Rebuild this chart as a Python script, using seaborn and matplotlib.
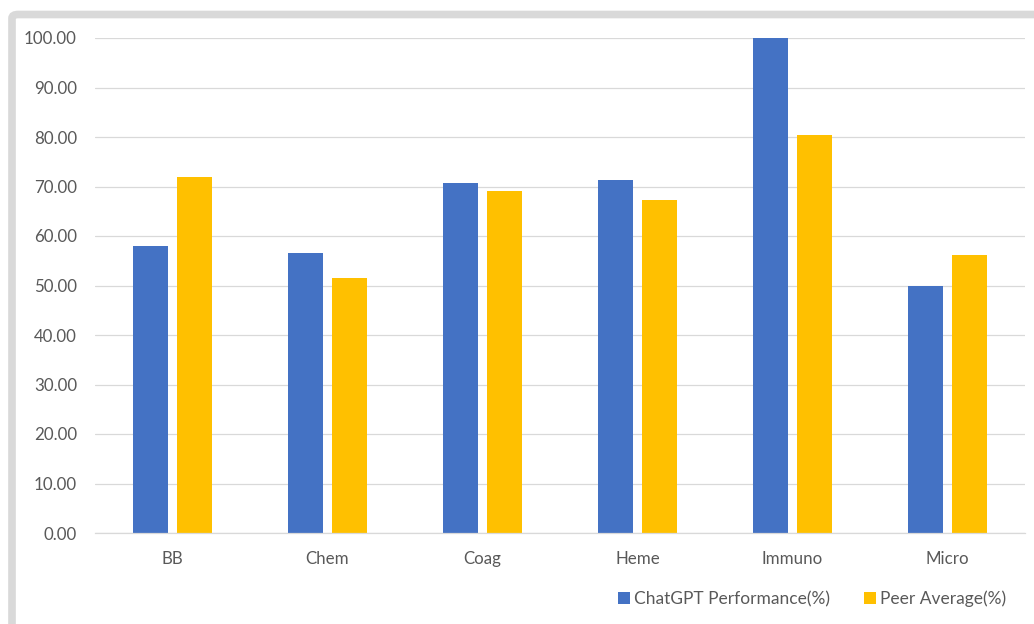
import matplotlib
matplotlib.use("Agg")
import matplotlib.pyplot as plt
import seaborn as sns
import pandas as pd
from matplotlib.patches import FancyBboxPatch, Patch

categories = ["BB", "Chem", "Coag", "Heme", "Immuno", "Micro"]
chatgpt = [57.9, 56.5, 70.8, 71.4, 100.0, 50.0]
peer = [71.9, 51.6, 69.0, 67.2, 80.4, 56.2]
series_names = ["ChatGPT Performance(%)", "Peer Average(%)"]
colors = ["#4472C4", "#FFC000"]

df = pd.DataFrame({
    "cat": categories * 2,
    "val": chatgpt + peer,
    "series": [series_names[0]] * len(categories) + [series_names[1]] * len(categories),
})

sns.set_theme(style="white")
plt.rcParams["font.family"] = ["Lato", "DejaVu Sans"]

fig = plt.figure(figsize=(10.34, 6.24), dpi=100)
ax = fig.add_axes([95 / 1034, 1 - 533 / 624, (1025 - 95) / 1034, (533 - 38) / 624])

sns.barplot(data=df, x="cat", y="val", hue="series", palette=colors,
            width=0.568, gap=0.204, ax=ax, legend=False, saturation=1,
            edgecolor="none")

ax.set_ylim(0, 100)
ax.set_xlim(-0.5, len(categories) - 0.5)
ax.set_yticks(range(0, 101, 10))
ax.set_yticklabels([f"{v:.2f}" for v in range(0, 101, 10)])
ax.yaxis.grid(True, color="#d9d9d9", linewidth=0.9)
ax.set_axisbelow(True)
for s in ["top", "right", "left"]:
    ax.spines[s].set_visible(False)
ax.spines["bottom"].set_color("#d9d9d9")
ax.spines["bottom"].set_linewidth(0.9)
ax.set_xlabel("")
ax.set_ylabel("")
ax.tick_params(axis="both", length=0, labelsize=12.2, colors="#595959")
ax.tick_params(axis="y", pad=13)
ax.tick_params(axis="x", pad=13)

handles = [Patch(facecolor=c, edgecolor="none") for c in colors]
fig.legend(handles, series_names, loc="center", bbox_to_anchor=(812 / 1034, 1 - 599 / 624),
           ncol=2, frameon=False, fontsize=12.5, handlelength=0.7, handleheight=0.7,
           handletextpad=0.2, columnspacing=2.0, labelcolor="#595959")

frame = FancyBboxPatch((12 / 1034, -0.2), 1.2, 1.2 - 14.5 / 624 + 0.0,
                       boxstyle="round,pad=0,rounding_size=0.006",
                       transform=fig.transFigure, facecolor="none",
                       edgecolor="#d9d9d9", linewidth=5.5, zorder=0)
fig.patches.append(frame)

fig.savefig("out.png", dpi=100)
